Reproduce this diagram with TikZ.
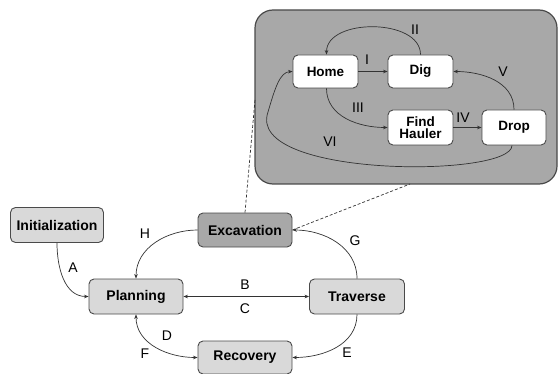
\documentclass[tikz,border=0pt]{standalone}
\usepackage{fontspec}
\setmainfont{Liberation Sans}
\usetikzlibrary{arrows.meta}
\definecolor{lightfill}{HTML}{D9D9D9}
\definecolor{darkfill}{HTML}{A8A8A8}
\definecolor{edgecol}{HTML}{4A4A4A}
\definecolor{linecol}{HTML}{333333}
\tikzset{
  box/.style={draw=edgecol, line width=0.9pt, rounded corners=5pt, fill=lightfill,
    font=\fontsize{14}{15}\selectfont\bfseries, inner sep=0pt, align=center},
  darkbox/.style={box, fill=darkfill},
  whitebox/.style={box, fill=white, font=\fontsize{13.5}{14}\selectfont\bfseries},
  arr/.style={draw=linecol, line width=0.7pt, -{Stealth[length=4.5pt,width=3.6pt]}},
  darr/.style={draw=linecol, line width=0.7pt, {Stealth[length=4.5pt,width=3.6pt]}-{Stealth[length=4.5pt,width=3.6pt]}},
  lbl/.style={font=\fontsize{14}{14}\selectfont, inner sep=0pt},
  dsh/.style={draw=linecol, line width=0.7pt, dashed, dash pattern=on 3pt off 2pt},
}
\begin{document}
\begin{tikzpicture}[x=1pt,y=-1pt]
\useasboundingbox (0,0) rectangle (559,374);
% dashed connectors (behind box)
\coordinate (d1) at (255,100);
\coordinate (d2) at (410,184);
% big box
\node[draw=edgecol, line width=1.2pt, fill=darkfill, rounded corners=18pt,
  minimum width=302pt, minimum height=174pt, inner sep=0pt] (big) at (406,97) {};
% inner nodes
\node[whitebox, minimum width=65pt, minimum height=33pt] (home) at (325.5,71.5) {Home};
\node[whitebox, minimum width=65pt, minimum height=33pt] (dig) at (420.5,71.5) {Dig};
\node[whitebox, minimum width=65pt, minimum height=35pt] (find) at (420.5,127.5) {Find\\[-2pt]Hauler};
\node[whitebox, minimum width=64pt, minimum height=35pt] (drop) at (514,127.5) {Drop};
% outer nodes
\node[box, minimum width=93pt, minimum height=35pt] (init) at (57,225) {Initialization};
\node[box, minimum width=94pt, minimum height=35pt] (plan) at (136,296.5) {Planning};
\node[darkbox, minimum width=94pt, minimum height=34pt] (exc) at (245,230) {Excavation};
\node[box, minimum width=95pt, minimum height=35pt] (trav) at (357,296.5) {Traverse};
\node[box, minimum width=94pt, minimum height=33pt] (rec) at (245,357.5) {Recovery};
% dashed
\draw[dsh] (exc.north) -- (d1);
\draw[dsh] (exc.east) -- (d2);
% inner arrows
\draw[arr] (home.east) -- (dig.west);
\draw[arr] (dig.north) to[out=90,in=90,looseness=1.0] ([xshift=1pt]home.north);
\draw[arr] ([xshift=1pt]home.south) to[out=-90,in=180] (find.west);
\draw[arr] (find.east) -- (drop.west);
\draw[arr] (drop.north) to[out=90,in=0] (dig.east);
\coordinate (vi) at (268,112);
\draw[arr] ([xshift=-2pt]drop.south) .. controls (512,178) and (245,178) .. (vi)
  .. controls (275,88) and (280,72) .. (home.west);
% inner labels
\node[lbl] (lI) at (367,60) {I};
\node[lbl] (lII) at (415,30) {II};
\node[lbl] (lIII) at (358,108) {III};
\node[lbl] (lIV) at (463,118) {IV};
\node[lbl] (lV) at (503,72) {V};
\node[lbl] (lVI) at (330,142) {VI};
% outer arrows
\draw[arr] (init.south) to[out=-90,in=180] (plan.west);
\draw[arr] (exc.west) to[out=180,in=90] (plan.north);
\draw[darr] (plan.east) -- (trav.west);
\draw[arr] (trav.north) to[out=90,in=0] (exc.east);
\draw[arr] (trav.south) to[out=-90,in=0] (rec.east);
\draw[darr] (plan.south) to[out=-90,in=180] (rec.west);
% outer labels
\node[lbl] (lA) at (73,268) {A};
\node[lbl] (lH) at (145,234) {H};
\node[lbl] (lB) at (245,285) {B};
\node[lbl] (lC) at (245,309) {C};
\node[lbl] (lG) at (355,241) {G};
\node[lbl] (lE) at (347,353) {E};
\node[lbl] (lD) at (167,336) {D};
\node[lbl] (lF) at (145,354) {F};
\end{tikzpicture}
\end{document}
